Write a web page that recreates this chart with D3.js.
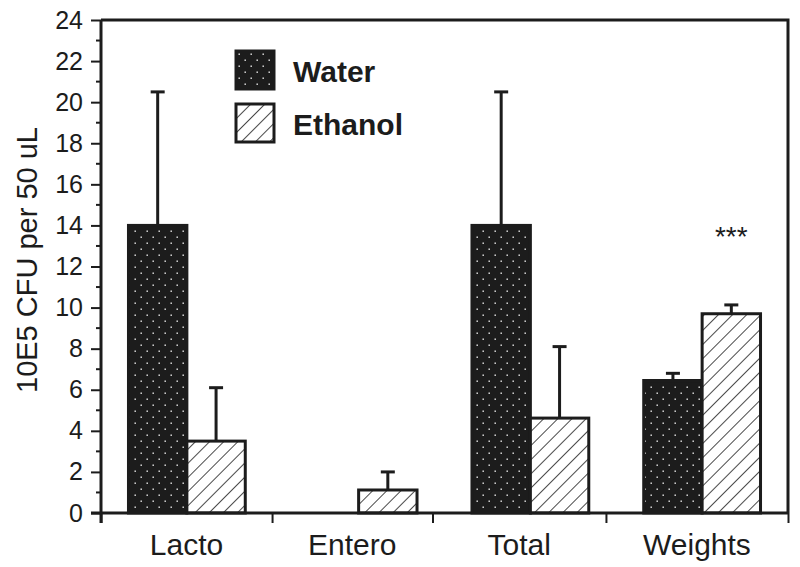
<!DOCTYPE html>
<html>
<head>
<meta charset="utf-8">
<script src="https://cdn.jsdelivr.net/npm/d3@7"></script>
<style>
  html, body { margin: 0; padding: 0; background: #fff; }
  svg { display: block; font-family: "Liberation Sans", Arial, Helvetica, sans-serif; }
</style>
</head>
<body>
<svg id="chart" width="800" height="567"></svg>
<script>
// ---- data ----
const categories = ["Lacto", "Entero", "Total", "Weights"];
const groupCenters = [0.5, 1.5, 2.5, 3.5];
const categoryBoundaries = [0, 0.996, 1.93, 2.94, 4];
const waterMeans = [14, 0, 14, 6.45];
const waterErr = [6.5, 0, 6.5, 0.35];
const ethanolMeans = [3.5, 1.12, 4.62, 9.7];
const ethanolErr = [2.6, 0.88, 3.48, 0.43];
const seriesNames = ["Water", "Ethanol"];
const yMajorTicks = [0, 2, 4, 6, 8, 10, 12, 14, 16, 18, 20, 22, 24];
const yMinorTicks = [1, 3, 5, 7, 9, 11, 13, 15, 17, 19, 21, 23];
const significance = [{ cat: 3, label: "***", y: 13.0 }];

// ---- layout ----
const svg = d3.select("#chart");
const mLeft = 101, mRight = 788, mTop = 20, mBottom = 513;
const ink = "#1c1c1c";

const x = d3.scaleLinear().domain([0, 4]).range([mLeft, mRight]);
const y = d3.scaleLinear().domain([0, 24]).range([mBottom, mTop]);
const barW = x(0.34) - x(0);

// patterns
const defs = svg.append("defs");
const dots = defs.append("pattern").attr("id", "dots")
  .attr("patternUnits", "userSpaceOnUse").attr("width", 12).attr("height", 12);
dots.append("rect").attr("width", 12).attr("height", 12).attr("fill", ink);
dots.append("rect").attr("x", 2.5).attr("y", 2.5).attr("width", 1.4).attr("height", 1.4).attr("fill", "#f0f0f0");
dots.append("rect").attr("x", 8.5).attr("y", 8.5).attr("width", 1.4).attr("height", 1.4).attr("fill", "#f0f0f0");

const hatch = defs.append("pattern").attr("id", "hatch")
  .attr("patternUnits", "userSpaceOnUse").attr("width", 10).attr("height", 10)
  .attr("patternTransform", "rotate(45)");
hatch.append("rect").attr("width", 10).attr("height", 10).attr("fill", "#fff");
hatch.append("line").attr("x1", 0).attr("y1", 0).attr("x2", 0).attr("y2", 10)
  .attr("stroke", ink).attr("stroke-width", 1.6);

const fills = ["url(#dots)", "url(#hatch)"];

// frame (top and right)
svg.append("path")
  .attr("d", `M${mLeft},${mTop}H${mRight}V${mBottom}`)
  .attr("fill", "none").attr("stroke", ink).attr("stroke-width", 3);

// bars
const series = [
  { means: waterMeans, err: waterErr, offset: -1 },
  { means: ethanolMeans, err: ethanolErr, offset: 0 }
];
series.forEach((s, si) => {
  const g = svg.append("g");
  categories.forEach((c, i) => {
    const v = s.means[i];
    if (v <= 0) return;
    const x0 = x(groupCenters[i]) + s.offset * barW;
    const cx = x0 + barW / 2;
    if (s.err[i] > 0) {
      g.append("line").attr("x1", cx).attr("x2", cx)
        .attr("y1", y(v)).attr("y2", y(v + s.err[i]))
        .attr("stroke", ink).attr("stroke-width", 3);
      g.append("line").attr("x1", cx - 7).attr("x2", cx + 7)
        .attr("y1", y(v + s.err[i])).attr("y2", y(v + s.err[i]))
        .attr("stroke", ink).attr("stroke-width", 3);
    }
    g.append("rect")
      .attr("x", x0).attr("y", y(v))
      .attr("width", barW).attr("height", y(0) - y(v))
      .attr("fill", fills[si]).attr("stroke", ink).attr("stroke-width", 3);
  });
});

// y axis
const yAxis = svg.append("g").attr("transform", `translate(${mLeft},0)`)
  .call(d3.axisLeft(y).tickValues(yMajorTicks).tickSize(10).tickPadding(8).tickFormat(d3.format("d")));
yAxis.select(".domain").attr("stroke", ink).attr("stroke-width", 3)
  .attr("d", `M0,${mTop}V${mBottom + 10}`);
yAxis.selectAll(".tick line").attr("stroke", ink).attr("stroke-width", 2);
yAxis.selectAll(".tick text").attr("font-size", 25).attr("fill", ink)
  .attr("font-family", "Liberation Sans, Arial, sans-serif");
svg.append("g").attr("transform", `translate(${mLeft},0)`)
  .selectAll("line").data(yMinorTicks).join("line")
  .attr("x1", -5).attr("x2", 0).attr("y1", d => y(d)).attr("y2", d => y(d))
  .attr("stroke", ink).attr("stroke-width", 2);

// x axis
const xAxis = svg.append("g").attr("transform", `translate(0,${mBottom})`)
  .call(d3.axisBottom(x).tickValues(categoryBoundaries).tickSize(10).tickFormat(""));
xAxis.select(".domain").attr("stroke", ink).attr("stroke-width", 3)
  .attr("d", `M${mLeft - 10},0H${mRight}`);
xAxis.selectAll(".tick line").attr("stroke", ink).attr("stroke-width", 2);

svg.append("g").selectAll("text").data(categories).join("text")
  .attr("x", (d, i) => (x(categoryBoundaries[i]) + x(categoryBoundaries[i + 1])) / 2)
  .attr("y", 555)
  .attr("text-anchor", "middle").attr("font-size", 30).attr("fill", ink)
  .text(d => d);

// y label
svg.append("text")
  .attr("transform", `translate(37,260) rotate(-90)`)
  .attr("text-anchor", "middle").attr("font-size", 29).attr("fill", ink)
  .text("10E5 CFU per 50 uL");

// significance
svg.append("g").selectAll("text").data(significance).join("text")
  .attr("x", d => x(groupCenters[d.cat]) + barW / 2)
  .attr("y", d => y(d.y))
  .attr("text-anchor", "middle").attr("font-size", 28).attr("fill", ink)
  .text(d => d.label);

// legend
const legend = svg.append("g").attr("transform", "translate(236,51)");
seriesNames.forEach((name, i) => {
  const row = legend.append("g").attr("transform", `translate(0,${i * 53})`);
  row.append("rect").attr("width", 38).attr("height", 38)
    .attr("fill", fills[i]).attr("stroke", ink).attr("stroke-width", 3);
  row.append("text").attr("x", 57).attr("y", 31)
    .attr("font-size", 30).attr("font-weight", "bold").attr("fill", ink)
    .text(name);
});
</script>
</body>
</html>
